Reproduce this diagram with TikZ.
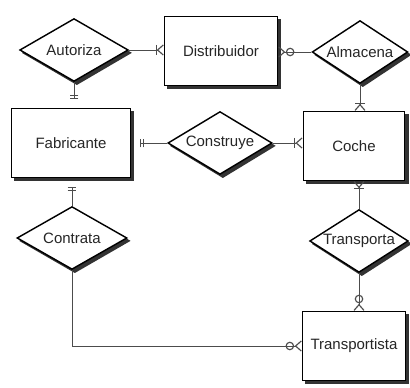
\documentclass[tikz,border=0pt]{standalone}
\usepackage{fontspec}
\setmainfont{Liberation Sans}
\usetikzlibrary{shapes.geometric,arrows.meta,backgrounds}

\tikzset{
  entity/.style={draw, line width=1pt, fill=white, minimum width=#1, minimum height=48pt},
  entity/.default=80pt,
  relation/.style={draw, diamond, aspect=1.7, line width=1pt, fill=white, inner sep=0pt,
    minimum width=#1, minimum height=44pt},
  relation/.default=75pt,
  sombra/.style={fill=black!80},
  link/.style={draw=black!70, line width=0.6pt},
  one/.style={link, -{Bar[width=6pt, line width=0.8pt, sep=1.6pt]Bar[width=6pt, line width=0.8pt, sep=6pt]}},
  many/.style={link, -{Bar[width=7pt, line width=0.8pt, sep=0pt]Straight Barb[reversed, length=4pt, width=7pt, line width=0.8pt]}},
  zmany/.style={link, -{Circle[open, length=6pt, width=6pt, line width=0.8pt, sep=0.4pt]Straight Barb[reversed, length=4pt, width=7pt, line width=0.8pt]}},
}
\newcommand{\sombracaja}[1]{%
  \fill[sombra] ([shift={(2.2pt,-2.2pt)}]#1.south west) rectangle ([shift={(2.2pt,-2.2pt)}]#1.north east);}
\newcommand{\sombrarombo}[1]{%
  \fill[sombra] ([shift={(2pt,-2pt)}]#1.north) -- ([shift={(2pt,-2pt)}]#1.east)
    -- ([shift={(2pt,-2pt)}]#1.south) -- ([shift={(2pt,-2pt)}]#1.west) -- cycle;}

\begin{document}
\begin{tikzpicture}[x=0.7pt, y=-0.7pt, font=\fontsize{10.5}{12}\selectfont, text=black!85]
  \useasboundingbox (0,0) rectangle (410,388);

  % entidades
  \node[entity=79pt]  (dis) at (221,51)  {Distribuidor};
  \node[entity=83pt]  (fab) at (71,143)  {Fabricante};
  \node[entity=71pt]  (coc) at (354,146) {Coche};
  \node[entity=72pt]  (tra) at (354,346) {Transportista};

  % relaciones
  \node[relation=76pt] (aut) at (74,50)   {Autoriza};
  \node[relation=67pt] (alm) at (360,52)  {Almacena};
  \node[relation=73pt] (con) at (220,143) {Construye};
  \node[relation=77pt] (cnt) at (72,238)  {Contrata};
  \node[relation=69pt] (trp) at (359,241) {Transporta};

  % sombras
  \begin{scope}[on background layer]
    \sombracaja{dis} \sombracaja{fab} \sombracaja{coc} \sombracaja{tra}
    \sombrarombo{aut} \sombrarombo{alm} \sombrarombo{con} \sombrarombo{cnt} \sombrarombo{trp}
  \end{scope}

  \coordinate (esq) at (cnt.south |- tra.west);

  \draw[many]  (aut.east) -- (aut.east -| dis.west);
  \draw[one]   (aut.south) -- (aut.south |- fab.north);
  \draw[zmany] (alm.west) -- (alm.west -| dis.east);
  \draw[many]  (alm.south) -- (alm.south |- coc.north);
  \draw[one]   (con.west) -- (con.west -| fab.east);
  \draw[many]  (con.east) -- (con.east -| coc.west);
  \draw[one]   (cnt.north) -- (cnt.north |- fab.south);
  \draw[many]  (trp.north) -- (trp.north |- coc.south);
  \draw[zmany] (trp.south) -- (trp.south |- tra.north);
  \draw[zmany] (cnt.south) -- (esq) -- (tra.west);
\end{tikzpicture}
\end{document}
